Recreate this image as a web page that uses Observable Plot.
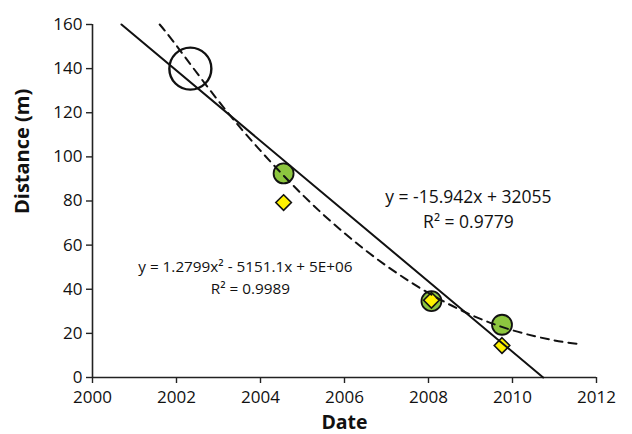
<!DOCTYPE html>
<html>
<head>
<meta charset="utf-8">
<script src="https://cdn.jsdelivr.net/npm/d3@7"></script>
<script src="https://cdn.jsdelivr.net/npm/@observablehq/plot@0.6"></script>
<style>
  html, body { margin: 0; padding: 0; background: #fff; }
  #chart svg { display: block; }
</style>
</head>
<body>
<div id="chart"></div>
<script>
const openDate = [2002.33];
const openDist = [140];
const greenDates = [2004.55, 2008.07, 2009.75];
const greenDist = [92.5, 34.6, 23.9];
const yellowDates = [2004.55, 2008.07, 2009.75];
const yellowDist = [79.3, 35.0, 14.5];

// Linear trend line endpoints
const linDates = [2000.69, 2010.73];
const linDist = [160, 0];

// Polynomial trend line
const polyDates = [2001.6, 2002, 2003, 2004, 2005, 2006, 2007, 2008, 2009, 2010, 2011, 2011.6];
const polyDist = [160, 150.4, 125.3, 102.8, 82.8, 65.4, 50.6, 38.3, 28.5, 21.4, 16.8, 15.2];

const xTicks = [2000, 2002, 2004, 2006, 2008, 2010, 2012];
const yTicks = [0, 20, 40, 60, 80, 100, 120, 140, 160];

const linLabel = ["y = -15.942x + 32055", "R² = 0.9779"];
const polyLabel = ["y = 1.2799x² - 5151.1x + 5E+06", "R² = 0.9989"];

const zip = (xs, ys) => xs.map((x, i) => ({x, y: ys[i]}));

const chart = Plot.plot({
  width: 632,
  height: 434,
  marginLeft: 92,
  marginRight: 36,
  marginTop: 24,
  marginBottom: 57,
  style: {fontFamily: "'Open Sans', sans-serif", fontSize: "17px", color: "#111", background: "#fff"},
  x: {domain: [2000, 2012], ticks: xTicks, tickFormat: d => String(d)},
  y: {domain: [0, 160], ticks: yTicks},
  marks: [
    Plot.ruleY([0], {stroke: "#222", strokeWidth: 1.6}),
    Plot.ruleX([2000], {stroke: "#222", strokeWidth: 1.6}),
    Plot.axisX({ticks: xTicks, tickFormat: d => String(d), tickSize: 6, tickPadding: 7, stroke: "#222", strokeWidth: 1.4, fontSize: 17, fill: "#111", label: null}),
    Plot.axisY({ticks: yTicks, tickSize: 6, tickPadding: 4, stroke: "#222", strokeWidth: 1.4, fontSize: 17, fill: "#111", label: null}),
    Plot.text(["Date"], {frameAnchor: "bottom", lineAnchor: "middle", dy: 45, fontSize: 19.5, fontWeight: "bold", fill: "#111"}),
    Plot.text(["Distance (m)"], {frameAnchor: "left", dx: -70, dy: 13, rotate: -90, fontSize: 20, fontWeight: "bold", fill: "#111"}),
    Plot.dot(zip(greenDates, greenDist), {x: "x", y: "y", r: 10, fill: "#8dc63f", stroke: "#111", strokeWidth: 1.8}),
    Plot.dot(zip(yellowDates, yellowDist), {x: "x", y: "y", r: 7, symbol: "diamond2", fill: "#fff200", stroke: "#111", strokeWidth: 1.6}),
    Plot.dot(zip(openDate, openDist), {x: "x", y: "y", r: 21, fill: "none", stroke: "#111", strokeWidth: 2.4}),
    Plot.line(zip(linDates, linDist), {x: "x", y: "y", stroke: "#111", strokeWidth: 2}),
    Plot.line(zip(polyDates, polyDist), {x: "x", y: "y", curve: "natural", stroke: "#111", strokeWidth: 2, strokeDasharray: "8,6"}),
    Plot.text([linLabel[0]], {x: 2008.95, y: 81.6, fontSize: 17.5, fill: "#111"}),
    Plot.text([linLabel[1]], {x: 2008.95, y: 70.3, fontSize: 17.5, fill: "#111"}),
    Plot.text([polyLabel[0]], {x: 2003.64, y: 49.9, fontSize: 15.3, fill: "#111"}),
    Plot.text([polyLabel[1]], {x: 2003.76, y: 39.9, fontSize: 15.3, fill: "#111"})
  ]
});
document.getElementById("chart").appendChild(chart);
</script>
</body>
</html>
